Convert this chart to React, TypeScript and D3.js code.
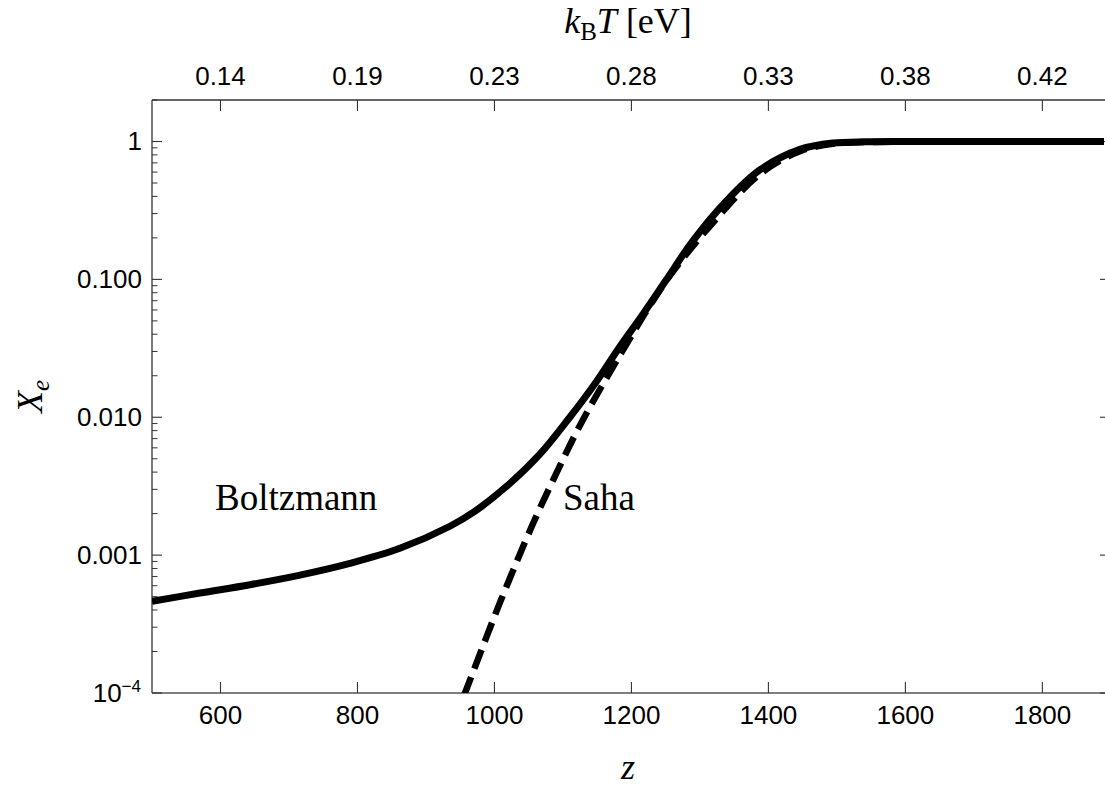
import React from "react";
import * as d3 from "d3";

// ---- data ----
const zSolid = [500, 570, 643, 716, 789, 862, 935, 969, 1018, 1066, 1110, 1149, 1180, 1217, 1250, 1290, 1339, 1388, 1446, 1494, 1543, 1600, 1700, 1800, 1890];
const xeSolid = [4.62e-4, 5.31e-4, 6.10e-4, 7.16e-4, 8.71e-4, 1.12e-3, 1.62e-3, 2.04e-3, 3.16e-3, 5.37e-3, 1.0e-2, 1.82e-2, 3.09e-2, 5.62e-2, 0.0977, 0.191, 0.372, 0.624, 0.877, 0.975, 0.995, 0.999, 1, 1, 1];

const zSaha = [940, 957, 1008, 1056, 1091, 1129, 1179, 1227, 1260, 1315, 1388, 1446, 1494, 1543, 1600, 1700, 1800, 1890];
const xeSaha = [6.1e-5, 1.0e-4, 4.52e-4, 1.68e-3, 3.98e-3, 9.55e-3, 0.026, 0.0646, 0.113, 0.245, 0.582, 0.85, 0.962, 0.991, 0.998, 1, 1, 1];

const zTicks = [600, 800, 1000, 1200, 1400, 1600, 1800];
const kTLabels = ["0.14", "0.19", "0.23", "0.28", "0.33", "0.38", "0.42"];
const yMajor = [1e-4, 1e-3, 1e-2, 1e-1, 1];
const yLabels = ["10", "0.001", "0.010", "0.100", "1"];

const W = 1105;
const H = 791;
const L = 152, R = 1104, T = 100, B = 693;

export default function App() {
  const x = d3.scaleLinear().domain([500, 1890]).range([L, R]);
  const y = d3.scaleLog().domain([1e-4, 2]).range([B, T]);

  const line = d3
    .line<[number, number]>()
    .x((d) => x(d[0]))
    .y((d) => y(d[1]))
    .curve(d3.curveCatmullRom.alpha(0.5));

  const solidPts: [number, number][] = zSolid.map((z, i) => [z, xeSolid[i]]);
  const sahaPts: [number, number][] = zSaha.map((z, i) => [z, xeSaha[i]]);

  const minor: number[] = [];
  for (let e = -4; e <= 0; e++) {
    for (let m = 2; m <= 9; m++) {
      const v = m * Math.pow(10, e);
      if (v <= 2) minor.push(v);
    }
  }

  const sans = "'Liberation Sans', Arial, Helvetica, sans-serif";
  const serif = "'Liberation Serif', 'Times New Roman', serif";
  const axisColor = "#333";

  return (
    <svg
      width={W}
      height={H}
      style={{ position: "absolute", left: 0, top: 0, background: "#fff" }}
    >
      <defs>
        <clipPath id="plotclip">
          <rect x={L} y={T} width={R - L + 2} height={B - T} />
        </clipPath>
      </defs>
      <rect x={0} y={0} width={W} height={H} fill="#fff" />

      {/* frame */}
      <line x1={L} y1={T} x2={W} y2={T} stroke={axisColor} strokeWidth={1.3} />
      <line x1={L} y1={B} x2={W} y2={B} stroke="#555" strokeWidth={1.5} />
      <line x1={L} y1={T} x2={L} y2={B} stroke={axisColor} strokeWidth={1.3} />

      {/* x ticks bottom & top */}
      {zTicks.map((z, i) => (
        <g key={"xt" + z}>
          <line x1={x(z)} x2={x(z)} y1={B} y2={B - 11} stroke={axisColor} strokeWidth={1.1} />
          <line x1={x(z)} x2={x(z)} y1={T} y2={T + 11} stroke={axisColor} strokeWidth={1.1} />
          <text x={x(z)} y={724} textAnchor="middle" fontFamily={sans} fontSize={26} fill="#000">
            {z}
          </text>
          <text x={x(z)} y={85} textAnchor="middle" fontFamily={sans} fontSize={26} fill="#000">
            {kTLabels[i]}
          </text>
        </g>
      ))}

      {/* y ticks */}
      {yMajor.map((v, i) => (
        <g key={"yt" + v}>
          <line x1={L} x2={L + 10} y1={y(v)} y2={y(v)} stroke={axisColor} strokeWidth={1.1} />
          <line x1={R + 1} x2={R - 4} y1={y(v)} y2={y(v)} stroke={axisColor} strokeWidth={1.1} />
          {i === 0 ? (
            <text x={141} y={y(v) + 8.5} textAnchor="end" fontFamily={sans} fontSize={26} fill="#000">
              {yLabels[i]}
              <tspan fontSize={17} dy={-10}>
                {"\u22124"}
              </tspan>
            </text>
          ) : (
            <text x={142} y={y(v) + 8.5} textAnchor="end" fontFamily={sans} fontSize={26} fill="#000">
              {yLabels[i]}
            </text>
          )}
        </g>
      ))}
      {minor.map((v) => (
        <line key={"ym" + v} x1={L} x2={L + 5.5} y1={y(v)} y2={y(v)} stroke={axisColor} strokeWidth={1} />
      ))}

      {/* curves */}
      <g clipPath="url(#plotclip)">
        <path d={line(solidPts) || ""} fill="none" stroke="#000" strokeWidth={7} strokeLinejoin="round" />
        <path
          d={line(sahaPts) || ""}
          fill="none"
          stroke="#000"
          strokeWidth={6.5}
          strokeDasharray="20,9"
          strokeLinecap="butt"
        />
      </g>

      {/* annotations */}
      <text x={215} y={510} fontFamily={serif} fontSize={37} fill="#000">
        Boltzmann
      </text>
      <text x={563} y={510} fontFamily={serif} fontSize={37} fill="#000">
        Saha
      </text>

      {/* axis titles */}
      <text x={(L + R) / 2} y={33} textAnchor="middle" fontFamily={serif} fontSize={36} fill="#000">
        <tspan fontStyle="italic">k</tspan>
        <tspan fontSize={25} dy={7}>B</tspan>
        <tspan fontStyle="italic" dy={-7}>T</tspan>
        <tspan>{" [eV]"}</tspan>
      </text>
      <text x={(L + R) / 2} y={779} textAnchor="middle" fontFamily={serif} fontSize={36} fontStyle="italic" fill="#000">
        z
      </text>
      <text
        transform={`translate(42, ${(T + B) / 2}) rotate(-90)`}
        textAnchor="middle"
        fontFamily={serif}
        fontSize={36}
        fill="#000"
      >
        <tspan fontStyle="italic">X</tspan>
        <tspan fontStyle="italic" fontSize={25} dy={7}>e</tspan>
      </text>
    </svg>
  );
}
